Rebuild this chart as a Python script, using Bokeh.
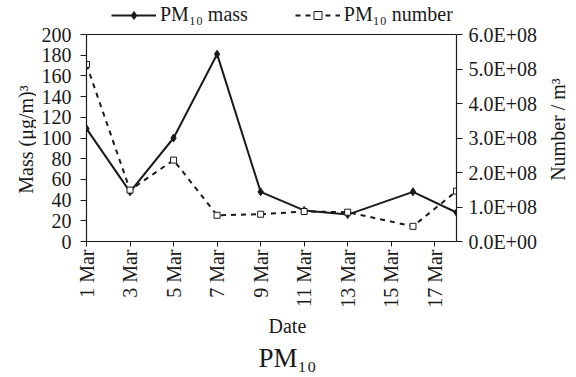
from bokeh.plotting import figure
from bokeh.layouts import row
from bokeh.models import (Range1d, LinearAxis, FixedTicker, CustomJSTickFormatter,
                          Legend, LegendItem, Label, Span, Title)
from bokeh.embed import file_html
from bokeh.resources import INLINE
from math import pi

# ---- data ----
days = [1, 3, 5, 7, 9, 11, 13, 16, 18]
mass = [109, 48, 100, 181, 48, 30, 26, 48, 28]
number = [5.13e8, 1.49e8, 2.36e8, 7.6e7, 7.9e7, 8.7e7, 8.5e7, 4.4e7, 1.46e8]

x_ticks = [1, 3, 5, 7, 9, 11, 13, 15, 17]
x_tick_labels = ["1 Mar", "3 Mar", "5 Mar", "7 Mar", "9 Mar", "11 Mar", "13 Mar", "15 Mar", "17 Mar"]
mass_ticks = [0, 20, 40, 60, 80, 100, 120, 140, 160, 180, 200]
number_ticks = [0, 1e8, 2e8, 3e8, 4e8, 5e8, 6e8]
mass_max = 200
number_max = 6e8

mass_label = "PM\u2081\u2080 mass"
number_label = "PM\u2081\u2080 number"
left_title = "Mass (\u03bcg/m)\u00b3"
right_title = "Number / m\u00b3"
x_title = "Date"
chart_title = "PM\u2081\u2080"

FONT = "Liberation Serif"
INK = "#1a1a1a"
FS = "20px"
H = 377
LEFT_W = 36
RIGHT_W = 28
MAIN_W = 576 - LEFT_W - RIGHT_W
FRAME_BOTTOM = 241

# main plot: frame extends to the top edge so the legend (inside the frame) is visible;
# axes are bounded to the data maximum and a span closes the box at the top.
TOP_FRAC = 241 / 207
p = figure(width=MAIN_W, height=H, output_backend="svg", toolbar_location=None,
           x_range=Range1d(1, 18), y_range=Range1d(0, mass_max * TOP_FRAC),
           min_border_left=86 - LEFT_W, min_border_right=MAIN_W - (456 - LEFT_W),
           min_border_top=0, min_border_bottom=H - FRAME_BOTTOM)
p.extra_y_ranges = {"num": Range1d(0, number_max * TOP_FRAC)}
p.xgrid.visible = False
p.ygrid.visible = False
p.outline_line_color = None
p.background_fill_color = "white"
p.border_fill_color = "white"

def style_axis(ax):
    ax.axis_line_color = INK
    ax.axis_line_width = 1.2
    ax.major_tick_line_color = INK
    ax.major_tick_out = 6
    ax.major_tick_in = 0
    ax.minor_tick_line_color = None
    ax.major_label_text_font = FONT
    ax.major_label_text_font_size = FS
    ax.major_label_text_color = INK

xa = p.xaxis[0]
style_axis(xa)
xa.ticker = FixedTicker(ticks=x_ticks)
xa.major_label_overrides = {t: l for t, l in zip(x_ticks, x_tick_labels)}
xa.major_label_orientation = pi / 2
xa.major_label_standoff = 3
xa.major_tick_out = 5

ya = p.yaxis[0]
style_axis(ya)
ya.ticker = FixedTicker(ticks=mass_ticks)
ya.bounds = (0, mass_max)
ya.major_label_standoff = 9

ra = LinearAxis(y_range_name="num", ticker=FixedTicker(ticks=number_ticks),
                formatter=CustomJSTickFormatter(code="""
                    const s = tick.toExponential(1);
                    const parts = s.split('e');
                    const e = parts[1];
                    const sign = e[0];
                    const d = e.slice(1).padStart(2, '0');
                    return parts[0] + 'E' + sign + d;
                """))
style_axis(ra)
ra.bounds = (0, number_max)
ra.major_label_standoff = 6
p.add_layout(ra, "right")

p.add_layout(Span(location=mass_max, dimension="width", line_color=INK, line_width=1.2))

l1 = p.line(days, mass, line_color=INK, line_width=2)
m1 = p.scatter(days, mass, marker="diamond", size=8, fill_color=INK, line_color=INK)
l2 = p.line(days, number, y_range_name="num", line_color=INK, line_width=2,
            line_dash="5 5")
m2 = p.scatter(days, number, y_range_name="num", marker="square", size=6,
               fill_color="white", line_color=INK, line_width=1)

legend = Legend(items=[LegendItem(label=mass_label, renderers=[l1, m1]),
                       LegendItem(label=number_label, renderers=[l2, m2])],
                orientation="horizontal", location=(25, 215),
                label_text_font=FONT, label_text_font_size=FS,
                label_text_color=INK, glyph_width=45, label_standoff=4,
                spacing=47, padding=0, margin=0, border_line_color=None,
                background_fill_alpha=0)
p.add_layout(legend, "center")

p.add_layout(Title(text=x_title, align="left", offset=182, text_font=FONT,
                   text_font_size=FS, text_font_style="normal", text_color=INK,
                   standoff=4), "below")
p.add_layout(Title(text=chart_title, align="left", offset=172, text_font=FONT,
                   text_font_size="27px", text_font_style="normal", text_color=INK,
                   standoff=4), "below")

# side strips carrying the rotated y-axis titles (both read bottom-to-top);
# the row aligns their frames with the main frame, so y is measured up from it.
def side_fig(w):
    f = figure(width=w, height=H, output_backend="svg", toolbar_location=None,
               x_axis_type=None, y_axis_type=None, min_border=0,
               x_range=Range1d(0, 1), y_range=Range1d(0, 1))
    f.xgrid.visible = False
    f.ygrid.visible = False
    f.outline_line_color = None
    f.background_fill_color = "white"
    f.border_fill_color = "white"
    return f

left = side_fig(LEFT_W)
left.add_layout(Label(x=25, y=FRAME_BOTTOM - 139, x_units="screen", y_units="screen",
                      text=left_title, angle=pi / 2, text_align="center",
                      text_baseline="middle", text_font=FONT, text_font_size=FS,
                      text_color=INK))
right = side_fig(RIGHT_W)
right.add_layout(Label(x=557 - (576 - RIGHT_W), y=FRAME_BOTTOM - 129, x_units="screen",
                       y_units="screen", text=right_title, angle=pi / 2,
                       text_align="center", text_baseline="middle", text_font=FONT,
                       text_font_size=FS, text_color=INK))

layout = row(left, p, right, spacing=0)
open("out.html", "w").write(file_html(layout, INLINE))
